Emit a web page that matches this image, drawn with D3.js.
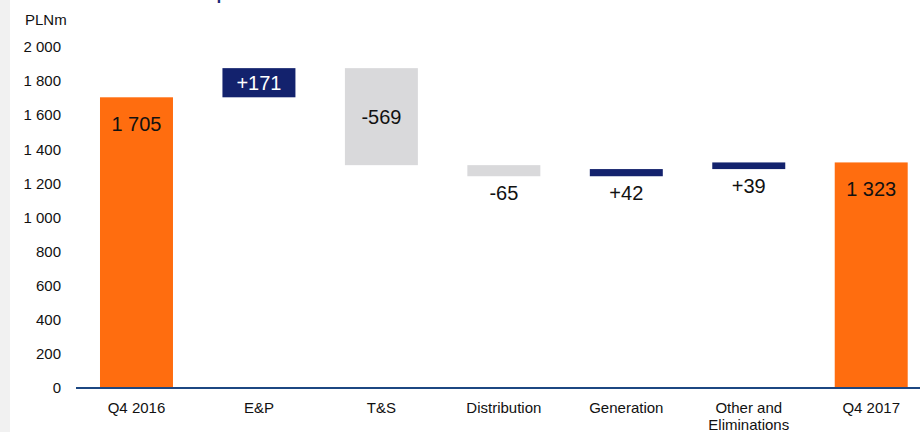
<!DOCTYPE html>
<html>
<head>
<meta charset="utf-8">
<script src="https://cdn.jsdelivr.net/npm/d3@7"></script>
<style>
  body { margin: 0; background: #fff; }
  svg { display: block; font-family: "Liberation Sans", Arial, sans-serif; }
</style>
</head>
<body>
<svg id="chart"></svg>
<script>
// waterfall data (PLNm)
const categories = ["Q4 2016", "E&P", "T&S", "Distribution", "Generation", "Other and\nEliminations", "Q4 2017"];
const values = [1705, 171, -569, -65, 42, 39, 1323];
const kinds = ["total", "delta", "delta", "delta", "delta", "delta", "total"];
const yTicks = [0, 200, 400, 600, 800, 1000, 1200, 1400, 1600, 1800, 2000];

const width = 920, height = 432;
const svg = d3.select("#chart").attr("width", width).attr("height", height);

// light gray strip on the left edge
svg.append("rect").attr("x", 0).attr("y", 0).attr("width", 10).attr("height", height).attr("fill", "#f1f1f1");

// cut-off title descender
svg.append("text").attr("x", 216).attr("y", -2).attr("font-size", 26).attr("fill", "#1a2a78").text("p");

const fmt = d3.formatLocale({ decimal: ".", thousands: "\u00a0", grouping: [3], currency: ["", ""] }).format(",d");

// running totals for the steps
let running = 0;
const bars = values.map((v, i) => {
  let start, end;
  if (kinds[i] === "total") { start = 0; end = v; running = v; }
  else { start = running; end = running + v; running = end; }
  return { cat: categories[i], value: v, kind: kinds[i], start, end };
});

const x = d3.scaleBand().domain(categories).range([75.5, 932.2]).paddingInner(0.404).paddingOuter(0.2);
const y = d3.scaleLinear().domain([0, 2000]).range([388, 47]);

const color = d => d.kind === "total" ? "#ff6d0f" : (d.value > 0 ? "#13226d" : "#d9d9db");

// y axis labels
svg.append("g").selectAll("text").data(yTicks).join("text")
  .attr("x", 61).attr("y", d => y(d)).attr("dy", "0.35em")
  .attr("text-anchor", "end").attr("font-size", 15).attr("fill", "#111")
  .text(d => fmt(d));

svg.append("text").attr("x", 25).attr("y", 25).attr("font-size", 15).attr("fill", "#111").text("PLNm");

// bars
svg.append("g").selectAll("rect").data(bars).join("rect")
  .attr("x", d => x(d.cat)).attr("width", x.bandwidth())
  .attr("y", d => y(Math.max(d.start, d.end)))
  .attr("height", d => Math.abs(y(d.start) - y(d.end)))
  .attr("fill", color);

// axis baseline
svg.append("line").attr("x1", 76).attr("x2", width).attr("y1", y(0)).attr("y2", y(0))
  .attr("stroke", "#1c4782").attr("stroke-width", 2);

// value labels
svg.append("g").selectAll("text").data(bars).join("text")
  .attr("x", d => x(d.cat) + x.bandwidth() / 2)
  .attr("y", d => {
    const top = y(Math.max(d.start, d.end)), bot = y(Math.min(d.start, d.end));
    if (d.kind === "total") return top + 34;
    if (bot - top > 25) return (top + bot) / 2 + 7;
    return bot + 24;
  })
  .attr("text-anchor", "middle").attr("font-size", 20)
  .attr("fill", d => d.kind === "delta" && d.value > 0 && Math.abs(y(d.start) - y(d.end)) > 25 ? "#fff" : "#111")
  .text(d => d.kind === "total" ? fmt(d.value) : (d.value > 0 ? "+" : "") + d.value);

// category labels
const catG = svg.append("g").selectAll("text").data(categories).join("text")
  .attr("x", d => x(d) + x.bandwidth() / 2).attr("y", 413)
  .attr("text-anchor", "middle").attr("font-size", 15).attr("fill", "#111");
catG.each(function (d) {
  d.split("\n").forEach((line, j) => {
    d3.select(this).append("tspan").attr("x", x(d) + x.bandwidth() / 2).attr("dy", j === 0 ? 0 : 17).text(line);
  });
});
</script>
</body>
</html>
